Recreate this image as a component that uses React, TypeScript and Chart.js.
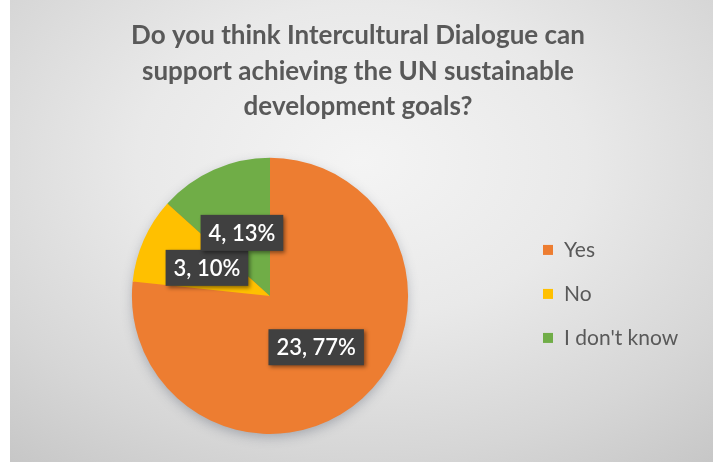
import React, { useEffect, useRef } from "react";
import { Chart, registerables, layouts } from "chart.js";

Chart.register(...registerables);

const titleLines = [
  "Do you think Intercultural Dialogue can",
  "support achieving the UN sustainable",
  "development goals?",
];
const categories = ["Yes", "No", "I don't know"];
const counts = [23, 3, 4];
const sliceColors = ["#ED7D31", "#FFC000", "#70AD47"];

const LEGEND_WIDTH = 176;
const LEGEND_SPACING = 44;

const sideLegendPlugin = {
  id: "sideLegend",
  beforeInit(chart: any) {
    const box: any = {
      position: "right",
      weight: 0,
      fullSize: false,
      options: { stackWeight: 1 },
      top: 0,
      left: 0,
      right: 0,
      bottom: 0,
      width: 0,
      height: 0,
      isHorizontal() {
        return false;
      },
      update(_maxWidth: number, maxHeight: number) {
        this.width = LEGEND_WIDTH;
        this.height = maxHeight;
      },
      draw() {
        const ctx = chart.ctx;
        const labels = chart.data.labels as string[];
        const colors = chart.data.datasets[0].backgroundColor as string[];
        const area = chart.chartArea;
        const cy = (area.top + area.bottom) / 2 - 2;
        ctx.save();
        ctx.font = "21px Lato, sans-serif";
        ctx.textAlign = "left";
        ctx.textBaseline = "middle";
        labels.forEach((lab, i) => {
          const y = cy + (i - (labels.length - 1) / 2) * LEGEND_SPACING;
          ctx.fillStyle = colors[i];
          ctx.fillRect(this.left + 13, y - 5, 10, 10);
          ctx.fillStyle = "#595959";
          ctx.fillText(lab, this.left + 34, y);
        });
        ctx.restore();
      },
    };
    layouts.addBox(chart, box);
  },
};

const pieShadowPlugin = {
  id: "pieShadow",
  beforeDatasetsDraw(chart: any) {
    const arc = chart.getDatasetMeta(0).data[0] as any;
    if (!arc) return;
    const ctx = chart.ctx;
    ctx.save();
    ctx.shadowColor = "rgba(60,70,90,0.35)";
    ctx.shadowBlur = 12;
    ctx.shadowOffsetY = 4;
    ctx.fillStyle = "#ED7D31";
    ctx.beginPath();
    ctx.arc(arc.x, arc.y, arc.outerRadius - 1, 0, Math.PI * 2);
    ctx.fill();
    ctx.restore();
  },
};

const boxLabelPlugin = {
  id: "boxLabels",
  afterDatasetsDraw(chart: any) {
    const ctx = chart.ctx;
    const meta = chart.getDatasetMeta(0);
    const data = chart.data.datasets[0].data as number[];
    const total = data.reduce((a, b) => a + b, 0);
    ctx.save();
    ctx.font = "600 22px Lato, sans-serif";
    ctx.textAlign = "center";
    ctx.textBaseline = "middle";
    meta.data.forEach((arc: any, i: number) => {
      const p = arc.tooltipPosition();
      const text = `${data[i]}, ${Math.round((data[i] / total) * 100)}%`;
      const w = ctx.measureText(text).width + 16;
      const h = 36;
      ctx.shadowColor = "rgba(0,0,0,0.45)";
      ctx.shadowBlur = 4;
      ctx.shadowOffsetX = 2;
      ctx.shadowOffsetY = 2;
      ctx.fillStyle = "#404040";
      ctx.fillRect(p.x - w / 2, p.y - h / 2, w, h);
      ctx.shadowColor = "transparent";
      ctx.fillStyle = "#ffffff";
      ctx.fillText(text, p.x, p.y + 1);
    });
    ctx.restore();
  },
};

export default function App() {
  const canvasRef = useRef<HTMLCanvasElement | null>(null);

  useEffect(() => {
    document.body.style.margin = "0";
    const canvas = canvasRef.current;
    if (!canvas) return;
    const chart = new Chart(canvas, {
      type: "pie",
      data: {
        labels: categories,
        datasets: [
          {
            data: counts,
            backgroundColor: sliceColors,
            borderWidth: 0,
            hoverOffset: 0,
          },
        ],
      },
      options: {
        responsive: false,
        animation: false,
        layout: { padding: { left: 0, right: 7, top: 0, bottom: 28 } },
        plugins: {
          legend: { display: false },
          tooltip: { enabled: false },
          title: {
            display: true,
            text: titleLines,
            color: "#595959",
            font: { family: "Lato, sans-serif", size: 26, weight: "bold", lineHeight: 1.37 },
            padding: { top: 18, bottom: 33 },
          },
        },
      },
      plugins: [sideLegendPlugin, pieShadowPlugin, boxLabelPlugin],
    });
    return () => chart.destroy();
  }, []);

  return (
    <div style={{ position: "absolute", left: 0, top: 0, width: 713, height: 465, background: "#ffffff" }}>
      <div
        style={{
          position: "absolute",
          left: 10,
          top: 0,
          width: 703,
          height: 462,
          background:
            "radial-gradient(ellipse 80% 85% at 50% 35%, #f4f4f4 0%, #e9e9e9 40%, #d6d6d6 75%, #c6c6c6 100%)",
        }}
      >
        <canvas ref={canvasRef} width={703} height={462} style={{ display: "block" }} />
      </div>
    </div>
  );
}
